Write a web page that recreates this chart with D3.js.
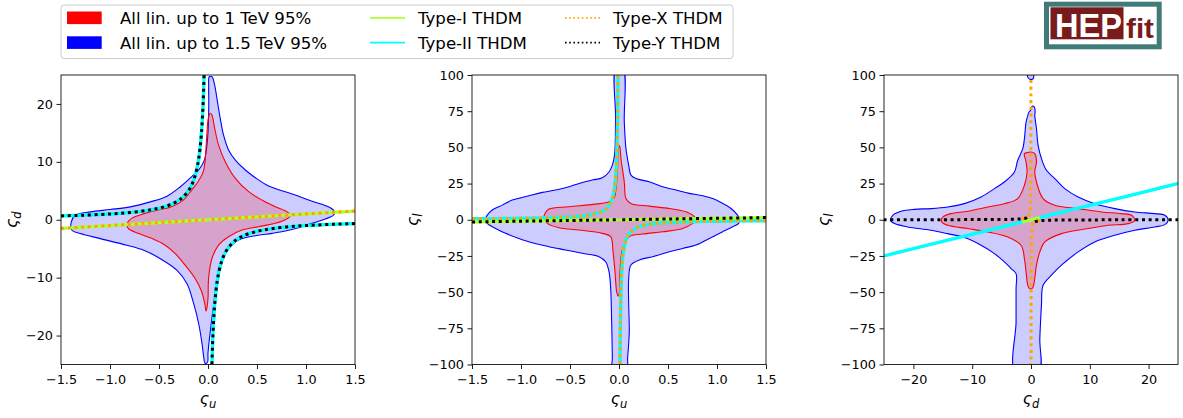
<!DOCTYPE html>
<html>
<head>
<meta charset="utf-8">
<script src="https://cdn.jsdelivr.net/npm/d3@7"></script>
<style>
  body { margin: 0; background: #fff; }
  svg { display: block; }
  text { font-family: "DejaVu Sans", sans-serif; fill: #000; }
</style>
</head>
<body>
<svg id="chart" width="1183" height="418"></svg>
<script>
// ---------------------------------------------------------------
// 95% allowed regions (boundary vertices in coupling units)
// ---------------------------------------------------------------

// (zeta_u, zeta_d) plane
const regionUD_15TeV = [
  [0.013, 24.7], [0.007, 23.0], [0.008, 20.0], [-0.003, 14.3], [-0.037, 10.3], [-0.095, 8.6],
  [-0.163, 7.5], [-0.282, 5.7], [-0.418, 4.07], [-0.588, 3.09], [-0.793, 2.22], [-0.997, 1.76],
  [-1.2, 1.36], [-1.354, 0.78], [-1.395, -0.37], [-1.388, -1.82], [-1.303, -2.39], [-1.099, -3.26],
  [-0.827, -4.41], [-0.656, -5.28], [-0.486, -6.72], [-0.316, -8.74], [-0.214, -11.04], [-0.146, -14.5],
  [-0.095, -17.96], [-0.061, -21.4], [-0.044, -23.7], [-0.03, -24.8], [-0.005, -24.6], [0.0, -23.0],
  [0.023, -19.3], [0.057, -14.7], [0.091, -10.1], [0.125, -7.5], [0.176, -5.8], [0.245, -4.37],
  [0.312, -3.5], [0.483, -2.75], [0.653, -2.35], [0.789, -1.95], [0.925, -1.37], [1.061, -0.62],
  [1.197, 0.13], [1.282, 0.82], [1.289, 1.5], [1.248, 2.08], [1.163, 2.66], [1.027, 3.4],
  [0.891, 4.27], [0.755, 5.02], [0.619, 5.82], [0.483, 7.26], [0.381, 8.59], [0.279, 10.3],
  [0.211, 12.0], [0.159, 14.6], [0.125, 17.5], [0.091, 20.97], [0.068, 23.27], [0.04, 24.7]
];
const regionUD_1TeV = [
  [0.023, 18.4], [0.003, 17.5], [-0.014, 14.1], [-0.031, 10.0], [-0.048, 8.3], [-0.1, 6.6],
  [-0.167, 5.13], [-0.252, 3.4], [-0.372, 2.25], [-0.508, 1.68], [-0.644, 1.1], [-0.78, 0.24],
  [-0.824, -0.63], [-0.814, -1.49], [-0.712, -2.35], [-0.576, -3.2], [-0.44, -4.37], [-0.337, -5.8],
  [-0.235, -7.8], [-0.133, -10.1], [-0.065, -12.4], [-0.031, -14.7], [-0.02, -15.8], [-0.012, -15.3],
  [0.0, -13.6], [0.006, -10.1], [0.04, -6.7], [0.108, -4.37], [0.21, -2.93], [0.347, -1.78],
  [0.517, -1.2], [0.687, -0.62], [0.789, 0.0], [0.84, 0.7], [0.806, 1.4], [0.687, 2.25],
  [0.55, 3.4], [0.415, 4.85], [0.279, 7.15], [0.176, 10.03], [0.108, 12.9], [0.068, 15.8], [0.04, 18.1]
];

// (zeta_u, zeta_l) plane
const regionUL_15TeV = [
  [-0.03, 105], [-0.035, 70], [-0.045, 45], [-0.068, 37.7], [-0.102, 33.0], [-0.17, 29.0],
  [-0.272, 27.4], [-0.408, 25.1], [-0.51, 22.8], [-0.647, 20.5], [-0.783, 18.9], [-0.919, 16.6],
  [-1.089, 13.6], [-1.191, 10.1], [-1.293, 6.7], [-1.344, 3.2], [-1.36, 1.0], [-1.344, -2.5],
  [-1.259, -6.0], [-1.157, -9.4], [-1.021, -12.9], [-0.885, -15.9], [-0.715, -18.6], [-0.545, -20.9],
  [-0.375, -23.2], [-0.204, -25.5], [-0.136, -29.0], [-0.102, -35.9], [-0.085, -47.4], [-0.075, -70.3],
  [-0.068, -95.6], [-0.068, -105], [0.078, -105], [0.088, -95.6], [0.105, -77.2], [0.099, -58.9],
  [0.099, -40.5], [0.122, -31.3], [0.207, -27.8], [0.344, -25.5], [0.514, -22.1], [0.65, -19.8],
  [0.786, -17.5], [0.922, -12.9], [1.058, -8.3], [1.16, -4.8], [1.221, -2.5], [1.228, 0.9],
  [1.21, 3.2], [1.143, 7.8], [1.058, 11.3], [0.956, 14.7], [0.854, 16.6], [0.718, 18.2],
  [0.582, 20.5], [0.445, 22.8], [0.309, 26.2], [0.173, 28.5], [0.122, 30.8], [0.099, 37.7],
  [0.071, 49.2], [0.054, 67.6], [0.04, 105]
];
const regionUL_1TeV = [
  [0.0, 51.5], [-0.01, 45], [-0.015, 35], [-0.03, 22], [-0.05, 15], [-0.102, 12.4],
  [-0.238, 10.8], [-0.51, 9.0], [-0.714, 7.4], [-0.755, 4.4], [-0.766, 0.9], [-0.732, -2.5],
  [-0.613, -5.5], [-0.409, -7.1], [-0.17, -9.4], [-0.085, -11.7], [-0.061, -22.1], [-0.041, -35.9],
  [-0.024, -49.7], [-0.01, -52.6], [0.0, -52.0], [0.01, -35.9], [0.037, -19.8], [0.105, -11.7],
  [0.241, -9.9], [0.445, -8.3], [0.65, -6.0], [0.752, -2.5], [0.786, -0.2], [0.769, 2.1],
  [0.684, 5.5], [0.514, 7.8], [0.309, 9.4], [0.122, 11.3], [0.071, 14.7], [0.054, 26.2],
  [0.02, 42.3], [0.01, 50.0]
];

// (zeta_d, zeta_l) plane
const regionDL_15TeV = [
  [-0.4, 74], [-0.61, 71], [-0.84, 67.5], [-1.12, 56.0], [-1.4, 49.1], [-2.26, 41.1],
  [-2.82, 33.0], [-4.53, 26.1], [-6.23, 21.5], [-8.49, 15.75], [-11.33, 11.14], [-14.17, 8.84],
  [-17.0, 7.7], [-19.84, 7.2], [-22.1, 5.85], [-23.5, 3.08], [-23.9, -0.37], [-23.2, -2.67],
  [-20.97, -4.97], [-17.0, -7.27], [-14.2, -9.6], [-11.33, -12.3], [-8.49, -17.6], [-6.23, -23.4],
  [-4.53, -29.1], [-3.39, -33.7], [-2.54, -37.2], [-2.54, -47.6], [-2.54, -70.6], [-2.65, -105],
  [1.33, -105], [1.5, -82.1], [1.78, -59.1], [2.06, -45.3], [3.48, -38.3], [5.18, -31.4],
  [8.02, -22.2], [10.85, -15.3], [14.26, -10.7], [17.66, -7.27], [21.06, -4.97], [22.77, -3.36],
  [23.33, -0.37], [22.77, 3.08], [21.06, 4.24], [17.66, 5.4], [14.26, 7.7], [10.85, 11.1],
  [8.02, 15.7], [5.75, 21.5], [4.05, 28.4], [2.63, 34.2], [1.78, 42.2], [1.21, 51.4],
  [0.93, 63], [0.64, 72.1], [0.7, 75], [0.55, 78], [0.2, 78.5], [0.0, 76]
];
const regionDL_15TeV_island = [
  [-0.5, 101], [-0.55, 98.5], [-0.2, 97.0], [0.3, 97.2], [0.45, 98.5], [0.4, 101]
];
const regionDL_1TeV = [
  [0.08, 46.8], [-0.5, 46.5], [-1.12, 45.7], [-0.84, 39.9], [-0.67, 33.0], [-1.12, 23.8],
  [-2.26, 14.6], [-4.53, 11.1], [-7.36, 8.84], [-10.76, 5.85], [-13.6, 4.24], [-15.0, 1.9],
  [-15.19, -1.5], [-14.17, -3.8], [-10.76, -6.1], [-7.36, -8.4], [-3.96, -11.9], [-1.69, -17.6],
  [-1.12, -26.8], [-0.84, -36.0], [-0.55, -45.3], [-0.27, -47.6], [0.1, -47.6], [0.36, -46.4],
  [0.64, -40.6], [0.93, -31.4], [1.5, -22.2], [2.35, -15.3], [5.18, -9.6], [9.72, -6.1],
  [13.12, -3.8], [16.53, -2.67], [17.66, -0.37], [17.1, 3.08], [15.39, 4.24], [11.99, 5.4],
  [8.02, 7.7], [4.05, 10.0], [2.06, 14.6], [0.93, 26.1], [0.64, 33.0], [0.93, 39.9], [0.64, 45.7]
];

// ---------------------------------------------------------------
// Z2-symmetric THDM benchmark lines, sampled in tan(beta)
// ---------------------------------------------------------------
const tanBetaSamples = [0.667, 0.7, 0.75, 0.8, 0.9, 1, 1.1, 1.25, 1.5, 1.75, 2, 2.5, 3, 3.5, 4, 5,
  6, 7, 8, 10, 12, 15, 20, 25, 30, 40, 50, 70, 100, 150, 200, 300];
const thdmTypes = ["Type-I THDM", "Type-II THDM", "Type-X THDM", "Type-Y THDM"];
// Alignment couplings of each type: zeta_f = cot(beta) or -tan(beta)
const thdmCouplings = {
  "Type-I THDM":  { u: "cot", d: "cot",  l: "cot" },
  "Type-II THDM": { u: "cot", d: "-tan", l: "-tan" },
  "Type-X THDM":  { u: "cot", d: "cot",  l: "-tan" },
  "Type-Y THDM":  { u: "cot", d: "-tan", l: "cot" }
};

// Axis ticks
const ticksZetaU = [-1.5, -1.0, -0.5, 0.0, 0.5, 1.0, 1.5];
const ticksZetaD = [-20, -10, 0, 10, 20];
const ticksZetaL = [-100, -75, -50, -25, 0, 25, 50, 75, 100];

// Legend entries
const regionLabels = ["All lin. up to 1 TeV 95%", "All lin. up to 1.5 TeV 95%"];

// ---------------------------------------------------------------
const svg = d3.select("#chart");

const styles = {
  "Type-I THDM":  { color: "#adff2f", width: 3.2, dash: null },
  "Type-II THDM": { color: "#00ffff", width: 3.4, dash: null },
  "Type-X THDM":  { color: "#ffa500", width: 3, dash: "3 3.7" },
  "Type-Y THDM":  { color: "#000000", width: 3, dash: "3 3.7" }
};
const drawOrder = ["Type-II THDM", "Type-I THDM", "Type-X THDM", "Type-Y THDM"];

const panels = [
  { id: "ud", left: 61, right: 355, xVar: "u", yVar: "d",
    xDomain: [-1.5, 1.5], yDomain: [-25, 25], xTicks: ticksZetaU, yTicks: ticksZetaD,
    xFmt: d3.format(".1f"), yFmt: d3.format("d"),
    outer: [regionUD_15TeV], inner: [regionUD_1TeV], xSub: "u", ySub: "d", yLabelX: 17 },
  { id: "ul", left: 472, right: 766, xVar: "u", yVar: "l",
    xDomain: [-1.5, 1.5], yDomain: [-100, 100], xTicks: ticksZetaU, yTicks: ticksZetaL,
    xFmt: d3.format(".1f"), yFmt: d3.format("d"),
    outer: [regionUL_15TeV], inner: [regionUL_1TeV], xSub: "u", ySub: "l", yLabelX: 418 },
  { id: "dl", left: 884, right: 1178, xVar: "d", yVar: "l",
    xDomain: [-25, 25], yDomain: [-100, 100], xTicks: ticksZetaD, yTicks: ticksZetaL,
    xFmt: d3.format("d"), yFmt: d3.format("d"),
    outer: [regionDL_15TeV, regionDL_15TeV_island], inner: [regionDL_1TeV], xSub: "d", ySub: "l", yLabelX: 829 }
];
const plotTop = 75, plotBottom = 364.5;

function coupling(kind, t) {
  return kind === "cot" ? 1 / t : -t;
}

function thdmBranches(type, xVar, yVar) {
  const c = thdmCouplings[type];
  return [1, -1].map(sign =>
    tanBetaSamples.map(tb => {
      const t = sign * tb;
      return [coupling(c[xVar], t), coupling(c[yVar], t)];
    })
  );
}

function labelWithSub(sel, sub) {
  sel.append("tspan").text("ς");
  sel.append("tspan").attr("font-size", "11.5px").attr("dy", "3.5").text(sub);
}

panels.forEach(p => {
  const x = d3.scaleLinear().domain(p.xDomain).range([p.left, p.right]);
  const y = d3.scaleLinear().domain(p.yDomain).range([plotBottom, plotTop]);
  const g = svg.append("g");

  const clipId = "clip-" + p.id;
  svg.append("clipPath").attr("id", clipId)
    .append("rect")
    .attr("x", p.left).attr("y", plotTop)
    .attr("width", p.right - p.left).attr("height", plotBottom - plotTop);

  const body = g.append("g").attr("clip-path", `url(#${clipId})`);

  const closed = d3.line().x(d => x(d[0])).y(d => y(d[1]))
    .curve(d3.curveCatmullRomClosed.alpha(0.5));
  const open = d3.line().x(d => x(d[0])).y(d => y(d[1]))
    .curve(d3.curveCatmullRom.alpha(0.5));

  body.selectAll("path.outer").data(p.outer).join("path")
    .attr("class", "outer")
    .attr("d", closed)
    .attr("fill", "rgba(0,0,255,0.2)")
    .attr("stroke", "#0000ff").attr("stroke-width", 1.1);

  body.selectAll("path.inner").data(p.inner).join("path")
    .attr("class", "inner")
    .attr("d", closed)
    .attr("fill", "rgba(255,0,0,0.2)")
    .attr("stroke", "#ff0000").attr("stroke-width", 1.1);

  drawOrder.forEach(type => {
    const s = styles[type];
    body.append("g").selectAll("path")
      .data(thdmBranches(type, p.xVar, p.yVar)).join("path")
      .attr("d", open)
      .attr("fill", "none")
      .attr("stroke", s.color)
      .attr("stroke-width", s.width)
      .attr("stroke-dasharray", s.dash);
  });

  // Axes
  const xAxis = d3.axisBottom(x).tickValues(p.xTicks).tickFormat(p.xFmt)
    .tickSize(4.5).tickPadding(5.5);
  const yAxis = d3.axisLeft(y).tickValues(p.yTicks).tickFormat(p.yFmt)
    .tickSize(4.5).tickPadding(3.5);

  const gx = g.append("g").attr("transform", `translate(0,${plotBottom})`).call(xAxis);
  const gy = g.append("g").attr("transform", `translate(${p.left},0)`).call(yAxis);
  [gx, gy].forEach(a => {
    a.select(".domain").remove();
    a.selectAll("line").attr("stroke", "#000").attr("stroke-width", 0.9);
    a.selectAll("text").attr("font-size", "12.8px").attr("fill", "#000")
      .style("font-family", '"DejaVu Sans", sans-serif');
  });

  g.append("rect")
    .attr("x", p.left).attr("y", plotTop)
    .attr("width", p.right - p.left).attr("height", plotBottom - plotTop)
    .attr("fill", "none").attr("stroke", "#111").attr("stroke-width", 0.9);

  // Axis titles
  g.append("text")
    .attr("x", (p.left + p.right) / 2).attr("y", 404)
    .attr("text-anchor", "middle")
    .attr("font-size", "16px").attr("font-style", "italic")
    .call(labelWithSub, p.xSub);

  g.append("text")
    .attr("transform", `translate(${p.yLabelX},${(plotTop + plotBottom) / 2}) rotate(-90)`)
    .attr("text-anchor", "middle")
    .attr("font-size", "16px").attr("font-style", "italic")
    .call(labelWithSub, p.ySub);
});

// ---------------------------------------------------------------
// Legend
// ---------------------------------------------------------------
const legend = svg.append("g");
legend.append("rect")
  .attr("x", 61).attr("y", 5).attr("width", 672).attr("height", 53.5)
  .attr("rx", 3).attr("fill", "#fff").attr("stroke", "#cccccc").attr("stroke-width", 1);

const rowY = [17.8, 42.6];
const regionColors = ["#ff0000", "#0000ff"];
regionLabels.forEach((lab, i) => {
  legend.append("rect")
    .attr("x", 67).attr("y", rowY[i] - 6.3).attr("width", 34.7).attr("height", 12.6)
    .attr("fill", regionColors[i]);
  legend.append("text")
    .attr("x", 120).attr("y", rowY[i] + 6.2)
    .attr("font-size", "16.6px").text(lab);
});

const legendLineStyles = {
  "Type-I THDM":  { dash: null },
  "Type-II THDM": { dash: null },
  "Type-X THDM":  { dash: "1.6 2.6" },
  "Type-Y THDM":  { dash: "1.6 2.6" }
};
thdmTypes.forEach((type, i) => {
  const col = Math.floor(i / 2), row = i % 2;
  const x0 = col === 0 ? 370 : 565;
  legend.append("line")
    .attr("x1", x0).attr("x2", x0 + 35)
    .attr("y1", rowY[row]).attr("y2", rowY[row])
    .attr("stroke", styles[type].color).attr("stroke-width", 1.7)
    .attr("stroke-dasharray", legendLineStyles[type].dash);
  legend.append("text")
    .attr("x", x0 + 48).attr("y", rowY[row] + 6.2)
    .attr("font-size", "16.6px").text(type);
});

// ---------------------------------------------------------------
// HEPfit badge
// ---------------------------------------------------------------
const logo = svg.append("g");
logo.append("rect")
  .attr("x", 1046.5).attr("y", 4.2).attr("width", 112.7).attr("height", 42.6)
  .attr("fill", "#fff").attr("stroke", "#3f7b79").attr("stroke-width", 5);
logo.append("rect")
  .attr("x", 1050.5).attr("y", 7.3).attr("width", 73).attr("height", 32)
  .attr("fill", "#7a1b1b");
logo.append("text")
  .attr("x", 1055).attr("y", 36.6)
  .attr("textLength", 67).attr("lengthAdjust", "spacingAndGlyphs")
  .style("font-family", '"Liberation Sans", Arial, sans-serif')
  .attr("font-weight", "bold").attr("font-size", "34px")
  .style("fill", "#ffffff").text("HEP");
logo.append("text")
  .attr("x", 1126).attr("y", 38.2)
  .attr("textLength", 28).attr("lengthAdjust", "spacingAndGlyphs")
  .style("font-family", '"Liberation Sans", Arial, sans-serif')
  .attr("font-weight", "bold").attr("font-size", "27px")
  .style("fill", "#7a1b1b").text("fit");
</script>
</body>
</html>
